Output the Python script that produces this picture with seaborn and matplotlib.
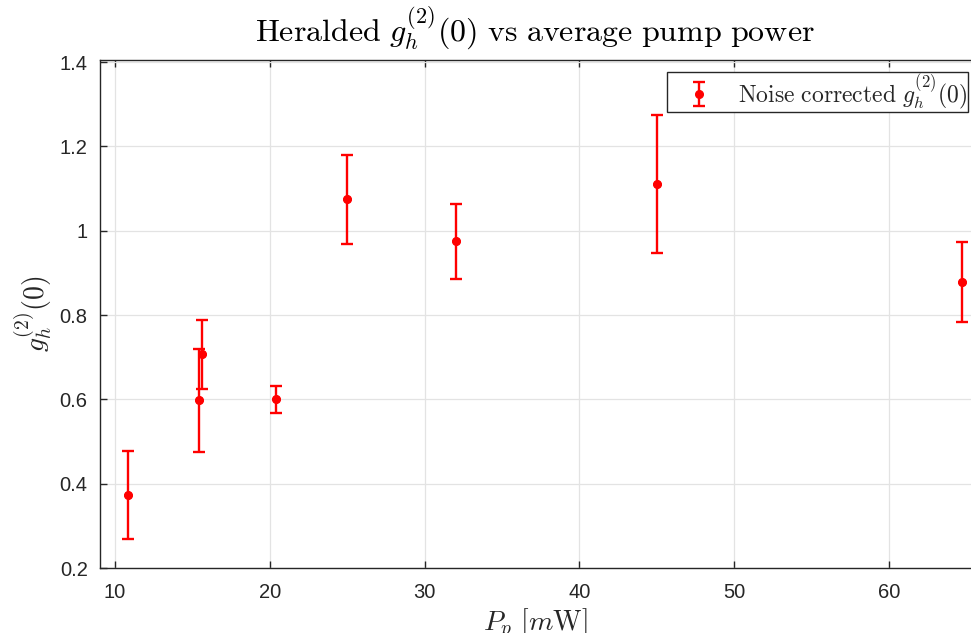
import numpy as np
import pandas as pd
import matplotlib
matplotlib.use("Agg")
import matplotlib.pyplot as plt
import seaborn as sns

# Data
power_mw = [10.86, 15.4, 15.63, 20.4, 25.0, 32.0, 45.0, 64.75]
g2_values = [0.373, 0.599, 0.707, 0.600, 1.075, 0.976, 1.111, 0.879]
err_lower = [0.104, 0.124, 0.083, 0.033, 0.106, 0.090, 0.164, 0.095]
err_upper = [0.105, 0.121, 0.081, 0.032, 0.105, 0.088, 0.164, 0.094]
x_ticks = [10, 20, 30, 40, 50, 60]
y_ticks = [0.2, 0.4, 0.6, 0.8, 1.0, 1.2, 1.4]
y_tick_labels = ["0.2", "0.4", "0.6", "0.8", "1", "1.2", "1.4"]

df = pd.DataFrame({"P": power_mw, "g2": g2_values})

sns.set_theme(style="whitegrid")
plt.rcParams["font.family"] = ["Liberation Sans", "DejaVu Sans"]
plt.rcParams["mathtext.fontset"] = "cm"

W, H = 971, 633
fig = plt.figure(figsize=(W / 100, H / 100), dpi=100)
left, right, top, bottom = 99.5, 971, 60, 568
ax = fig.add_axes([left / W, 1 - bottom / H, (right - left) / W, (bottom - top) / H])

red = "#ff0000"
ax.errorbar(power_mw, g2_values, yerr=[err_lower, err_upper], fmt="o", color=red,
            ecolor=red, elinewidth=1.7, capsize=4.6, capthick=1.7, markersize=5.5,
            label=r"$\mathrm{Noise\ corrected}\ g_h^{(2)}(0)$", zorder=3)
sns.scatterplot(data=df, x="P", y="g2", color=red, s=30, edgecolor=red, ax=ax,
                legend=False, zorder=4)

ax.set_xlim(9, 65.3)
ax.set_ylim(0.2, 1.405)
ax.set_xticks(x_ticks)
ax.set_yticks(y_ticks)
ax.set_yticklabels(y_tick_labels)

ax.grid(True, color="#e3e3e3", linewidth=0.9)
ax.set_axisbelow(True)
ax.set_facecolor("white")
for s in ["left", "bottom", "top"]:
    ax.spines[s].set_visible(True)
    ax.spines[s].set_color("#262626")
    ax.spines[s].set_linewidth(1.0)
ax.spines["right"].set_visible(False)

ax.tick_params(axis="both", direction="in", length=5, width=1, color="#262626",
               labelcolor="#262626", labelsize=14.5, top=True, bottom=True,
               left=True, right=False)
ax.tick_params(axis="x", pad=11)
ax.tick_params(axis="y", pad=8.5)

ax.set_xlabel(r"$P_p\ [m\mathrm{W}]$", fontsize=20, color="#262626", labelpad=3)
ax.set_ylabel(r"$g_h^{(2)}(0)$", fontsize=20, color="#262626", labelpad=4)
ax.set_title(r"$\mathrm{Heralded}\ g_h^{(2)}(0)\ \mathrm{vs\ average\ pump\ power}$",
             fontsize=23, color="black", pad=14)

leg = ax.legend(loc="upper left", bbox_to_anchor=(667 / W, 1 - 72 / H),
                bbox_transform=fig.transFigure, fontsize=17, frameon=True,
                fancybox=False, framealpha=1, edgecolor="#262626",
                borderpad=0.02, handletextpad=0.3, handlelength=2.7,
                borderaxespad=0)
leg.get_frame().set_linewidth(1.0)

fig.savefig("out.png", dpi=100)
